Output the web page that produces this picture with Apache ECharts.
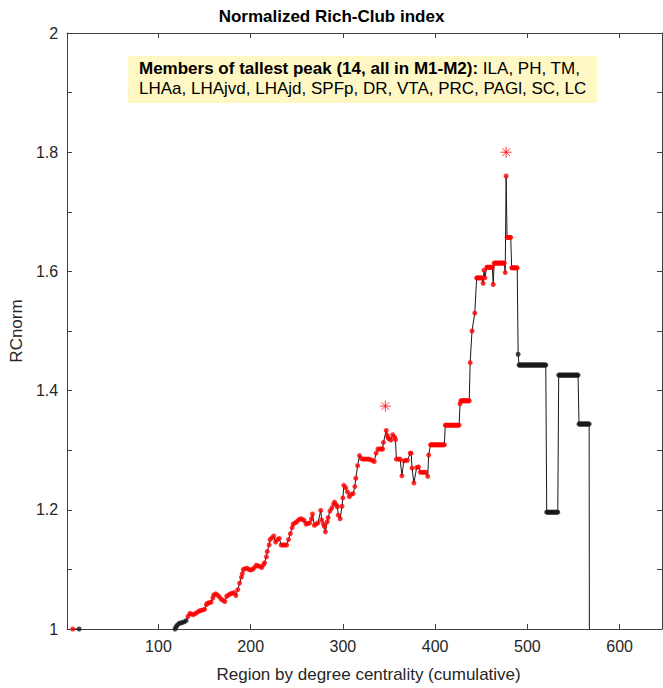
<!DOCTYPE html>
<html>
<head>
<meta charset="utf-8">
<script src="https://cdn.jsdelivr.net/npm/echarts@6/dist/echarts.min.js"></script>
<style>html,body{margin:0;padding:0;background:#fff}#c{width:663px;height:688px}</style>
</head>
<body>
<div id="c"></div>
<script>
// Regions drawn with red markers (members of M1-M2)
const redRegions = [7,
132,134,136,138,140,142,144,146,148,150,
152,153,155,157,159,160,162,164,166,168,
170,172,174,176,178,180,182,184,186,188,
190,191,192,194,196,198,200,202,204,206,
208,210,212,214,215,217,218,220,221,223,
225,227,229,231,233,235,237,239,241,243,
245,246,248,250,252,254,256,258,260,262,
264,266,267,269,271,273,276,277,279,280,
281,283,284,286,288,290,291,293,294,295,
297,299,300,301,303,305,307,309,311,313,
314,316,318,320,322,324,326,328,330,332,
334,336,338,340,342,343,344,347,348,349,
350,352,354,356,357,358,360,362,364,366,
368,370,373,374,375,377,380,382,384,386,
388,390,392,393,
395,396,397,398,399,400,401,402,403,404,405,406,407,408,409,410,
411,412,413,414,415,416,417,418,419,420,421,422,423,424,425,426,
427,
428,429,430,431,432,433,434,435,436,437,
438,440,443,
445,446,447,448,449,450,451,
452,453,454,
456,457,458,459,460,461,462,
463,
464,465,466,467,468,469,470,471,472,473,474,475,
476,477,
478,479,480,481,482,
483,484,485,486,487,488,489];
const redValues = [1.000,
1.021,1.026,1.025,1.024,1.026,1.028,1.030,1.031,1.032,1.033,
1.041,1.043,1.044,1.045,1.052,1.057,1.059,1.057,1.054,1.050,
1.048,1.046,1.055,1.057,1.059,1.060,1.061,1.056,1.066,1.077,
1.087,1.093,1.100,1.101,1.102,1.100,1.099,1.100,1.103,1.107,
1.106,1.105,1.103,1.108,1.111,1.121,1.130,1.141,1.150,1.153,
1.156,1.146,1.150,1.152,1.141,1.141,1.141,1.141,1.150,1.160,
1.170,1.176,1.178,1.180,1.183,1.185,1.184,1.182,1.176,1.177,
1.178,1.185,1.193,1.174,1.176,1.178,1.199,1.183,1.176,1.172,
1.163,1.180,1.187,1.198,1.203,1.210,1.213,1.208,1.205,1.191,
1.185,1.206,1.220,1.241,1.237,1.230,1.222,1.226,1.227,1.239,
1.253,1.274,1.291,1.286,1.285,1.285,1.285,1.285,1.284,1.283,
1.281,1.295,1.302,1.302,1.302,1.302,1.313,1.333,1.325,1.321,
1.319,1.317,1.326,1.322,1.318,1.285,1.285,1.285,1.257,1.282,
1.283,1.283,1.295,1.295,1.270,1.245,1.271,1.272,1.263,1.263,
1.263,1.263,1.256,1.292,
1.309,1.309,1.309,1.309,1.309,1.309,1.309,1.309,1.309,1.309,1.309,1.309,1.309,1.309,1.309,1.309,
1.342,1.342,1.342,1.342,1.342,1.342,1.342,1.342,1.342,1.342,1.342,1.342,1.342,1.342,1.342,1.342,
1.378,
1.383,1.383,1.383,1.383,1.383,1.383,1.383,1.383,1.383,1.383,
1.447,1.500,1.530,
1.589,1.589,1.589,1.589,1.589,1.589,1.589,
1.580,1.602,1.589,
1.607,1.607,1.607,1.607,1.607,1.607,1.607,
1.578,
1.614,1.614,1.614,1.614,1.614,1.614,1.614,1.614,1.614,1.614,1.614,1.614,
1.598,1.760,
1.657,1.657,1.657,1.657,1.657,
1.606,1.606,1.606,1.606,1.606,1.606,1.606];

// Regions drawn with black markers
const blackRegions = [14,118,119,120,122,124,126,128,130,
490,
491,492,493,494,495,496,497,498,499,500,501,502,503,504,505,506,507,508,509,510,511,512,513,514,515,516,517,518,519,520,
521,522,523,524,525,526,527,528,529,530,531,532,533,
534,535,536,537,538,539,540,541,542,543,544,545,546,547,548,549,550,551,552,553,554,555,
556,557,558,559,560,561,562,563,564,565,566,567,
568];
const blackValues = [1.000,1.000,1.003,1.006,1.009,1.010,1.011,1.012,1.014,
1.461,
1.443,1.443,1.443,1.443,1.443,1.443,1.443,1.443,1.443,1.443,1.443,1.443,1.443,1.443,1.443,1.443,1.443,1.443,1.443,1.443,1.443,1.443,1.443,1.443,1.443,1.443,1.443,1.443,1.443,1.443,
1.196,1.196,1.196,1.196,1.196,1.196,1.196,1.196,1.196,1.196,1.196,1.196,1.196,
1.426,1.426,1.426,1.426,1.426,1.426,1.426,1.426,1.426,1.426,1.426,1.426,1.426,1.426,1.426,1.426,1.426,1.426,1.426,1.426,1.426,1.426,
1.344,1.344,1.344,1.344,1.344,1.344,1.344,1.344,1.344,1.344,1.344,1.344,
0];

// Peak markers (asterisks)
const peakRegions = [346, 477];
const peakValues = [1.374, 1.800];

// Axis ticks / labels
const xTicks = [100, 200, 300, 400, 500, 600];
const yTicks = [1, 1.1, 1.2, 1.3, 1.4, 1.5, 1.6, 1.7, 1.8, 1.9, 2];
const yLabels = [1, 1.2, 1.4, 1.6, 1.8, 2];

const titleText = 'Normalized Rich-Club index';
const xName = 'Region by degree centrality (cumulative)';
const yName = 'RCnorm';
const boxBold = 'Members of tallest peak (14, all in M1-M2):';
const boxLine1 = ' ILA, PH, TM,';
const boxLine2 = 'LHAa, LHAjvd, LHAjd, SPFp, DR, VTA, PRC, PAGl, SC, LC';

const FONT = '"Liberation Sans", Arial, Helvetica, sans-serif';
const AX = '#404040';
const TXT = '#262626';

const redData = redRegions.map((x, i) => [x, redValues[i]]);
const blackData = blackRegions.map((x, i) => [x, blackValues[i]]);
const sorted = redData.concat(blackData).sort((a, b) => a[0] - b[0]);
// break the connecting line where regions are missing (large gap in index)
const lineData = [];
sorted.forEach((p, i) => {
  if (i > 0 && p[0] - sorted[i - 1][0] > 50) lineData.push('-');
  lineData.push(p);
});
const peakData = peakRegions.map((x, i) => [x, peakValues[i]]);

const chart = echarts.init(document.getElementById('c'), null, {renderer: 'svg'});

function xAxisCfg(pos, withLabels) {
  return {
    type: 'value', min: 1, max: 646, position: pos,
    axisLine: {show: true, onZero: false, lineStyle: {color: AX, width: 1}},
    axisTick: {show: true, inside: true, length: 5, customValues: xTicks, lineStyle: {color: AX, width: 1}},
    axisLabel: withLabels ? {show: true, customValues: xTicks, margin: 9, fontSize: 16, color: TXT, fontFamily: FONT} : {show: false},
    splitLine: {show: false},
    name: withLabels ? xName : '',
    nameLocation: 'middle', nameGap: 37,
    nameTextStyle: {fontSize: 17, color: TXT, fontFamily: FONT, padding: [0, 0, 0, 8]}
  };
}
function yAxisCfg(pos, withLabels) {
  return {
    type: 'value', min: 1, max: 2, position: pos,
    axisLine: {show: true, onZero: false, lineStyle: {color: AX, width: 1}},
    axisTick: {show: true, inside: true, length: 5, customValues: yTicks, lineStyle: {color: AX, width: 1}},
    axisLabel: withLabels ? {show: true, customValues: yLabels, margin: 9, fontSize: 16, color: TXT, fontFamily: FONT,
      formatter: v => String(Math.round(v * 10) / 10)} : {show: false},
    splitLine: {show: false},
    name: withLabels ? yName : '',
    nameLocation: 'middle', nameGap: 38, nameRotate: 90,
    nameTextStyle: {fontSize: 17, color: TXT, fontFamily: FONT}
  };
}

chart.setOption({
  animation: false,
  backgroundColor: '#ffffff',
  title: {
    text: titleText, left: 'center', top: 8, padding: 0,
    textStyle: {fontSize: 17, fontWeight: 'bold', color: '#000', fontFamily: FONT}
  },
  grid: {left: 64, right: 1, top: 33, bottom: 55, containLabel: false},
  xAxis: [xAxisCfg('bottom', true), xAxisCfg('top', false)],
  yAxis: [yAxisCfg('left', true), yAxisCfg('right', false)],
  series: [
    {type: 'line', xAxisIndex: 0, yAxisIndex: 0, data: lineData, showSymbol: false, symbol: 'none',
     connectNulls: false, lineStyle: {color: '#1a1a1a', width: 1}, clip: true, z: 2},
    {type: 'scatter', xAxisIndex: 0, yAxisIndex: 0, data: redData, symbol: 'circle', symbolSize: 5,
     itemStyle: {color: '#ff0000'}, clip: true, z: 3},
    {type: 'scatter', xAxisIndex: 0, yAxisIndex: 0, data: blackData, symbol: 'circle', symbolSize: 5,
     itemStyle: {color: '#1a1a1a'}, clip: true, z: 3},
    {type: 'scatter', xAxisIndex: 0, yAxisIndex: 0, data: peakData,
     symbol: 'path://M5,0L5,10M0,5L10,5M1.5,1.5L8.5,8.5M1.5,8.5L8.5,1.5', symbolSize: 11,
     itemStyle: {color: 'rgba(0,0,0,0)', borderColor: '#ff0000', borderWidth: 1}, z: 4}
  ],
  graphic: [
    {type: 'rect', shape: {x: 128, y: 56, width: 469, height: 47}, style: {fill: '#FFF8C4'}, z: 10},
    {type: 'text', x: 139, y: 58, z: 11,
     style: {
       text: '{b|' + boxBold + '}{n|' + boxLine1 + '}\n{n|' + boxLine2 + '}',
       rich: {
         b: {fontWeight: 'bold', fontSize: 17, fontFamily: FONT, lineHeight: 20, fill: '#000'},
         n: {fontSize: 17, fontFamily: FONT, lineHeight: 20, fill: '#000'}
       },
       fontSize: 17, fontFamily: FONT, lineHeight: 20, fill: '#000',
       verticalAlign: 'top', align: 'left'
     }}
  ]
});
</script>
</body>
</html>
